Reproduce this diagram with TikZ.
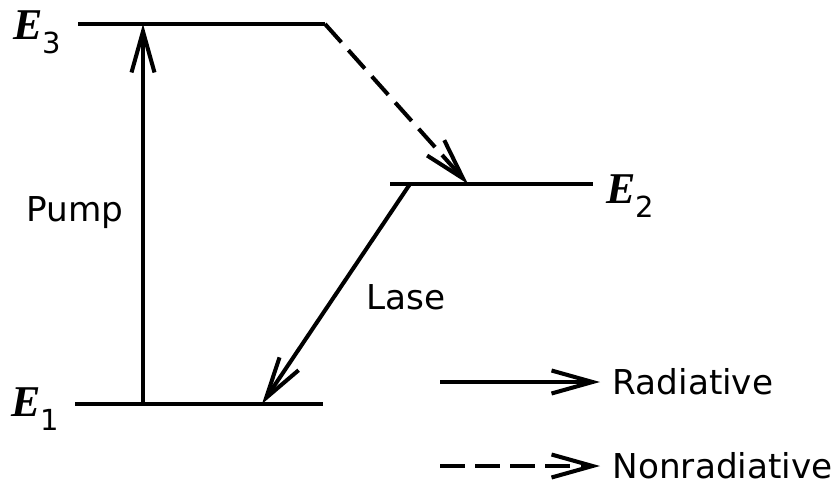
\documentclass[tikz,border=0pt]{standalone}
\usepackage{fontspec}
\setmainfont{DejaVu Sans}
\newfontfamily\levelfont{Liberation Serif}
\usetikzlibrary{arrows.meta,positioning}

\newcommand{\lvlname}[1]{{\fontsize{25}{25}\selectfont\levelfont\bfseries\itshape E}\raisebox{-8pt}{\fontsize{16.5}{16.5}\selectfont #1}}

\begin{document}
\begin{tikzpicture}[x=0.02cm,y=-0.02cm,
  every node/.style={font=\fontsize{19.5}{22}\selectfont, inner sep=0pt},
  level/.style={line width=2.5pt},
  rad/.style={line width=2.3pt, -{Straight Barb[length=0.82cm,width=0.46cm]}},
  nonrad/.style={rad, dash pattern=on 14pt off 6pt}
]
\useasboundingbox (0,0) rectangle (836,487);

% Energy levels
\coordinate (e3l) at (78,24);  \coordinate (e3r) at (325,24);
\coordinate (e2l) at (390,184); \coordinate (e2r) at (593,184);
\coordinate (e1l) at (75,404);  \coordinate (e1r) at (323,404);
\draw[level] (e3l) -- (e3r);
\draw[level] (e2l) -- (e2r);
\draw[level] (e1l) -- (e1r);

\node[anchor=base west] (E3) at (13,39) {\lvlname{3}};
\node[anchor=base west] (E2) at (606,203) {\lvlname{2}};
\node[anchor=base west] (E1) at (11,416) {\lvlname{1}};

% Transitions
\coordinate (pb) at (143,404); \coordinate (pt) at (143,24);
\coordinate (nt) at (468,184);
\coordinate (ls) at (410,184); \coordinate (lt) at (262,404);
\draw[rad] (pb) -- (pt);
\draw[nonrad] (e3r) -- (nt);
\draw[rad] (ls) -- (lt);

\node (pump) at (75,213) {Pump};
\node (lase) at (406,297) {Lase};

% Legend
\coordinate (ra) at (440,382); \coordinate (rb) at (600,382);
\coordinate (na) at (440,466); \coordinate (nb) at (600,466);
\draw[rad] (ra) -- (rb);
\draw[nonrad] (na) -- (nb);
\node[anchor=west, right=7pt of rb] (radtxt) {Radiative};
\node[anchor=west, right=7pt of nb] (nonradtxt) {Nonradiative};

\end{tikzpicture}
\end{document}
